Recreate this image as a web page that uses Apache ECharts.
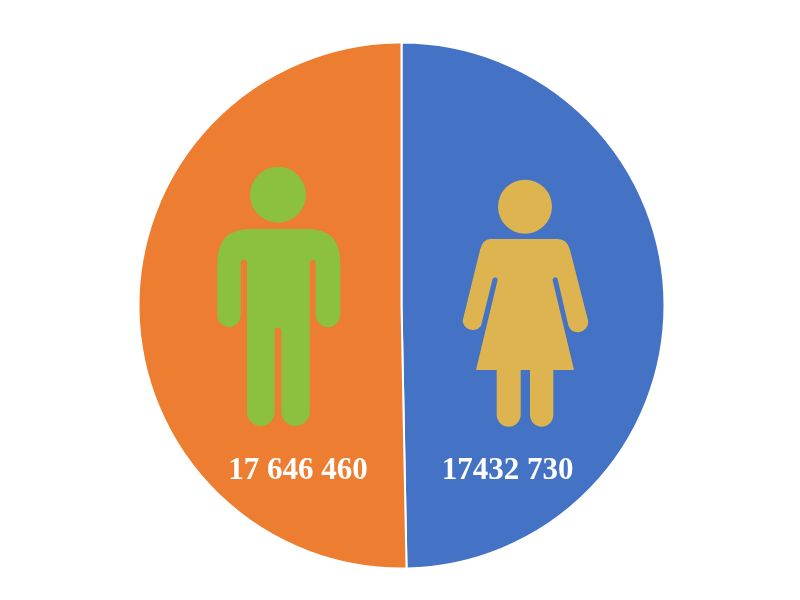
<!DOCTYPE html>
<html>
<head>
<meta charset="utf-8">
<style>
  html, body { margin: 0; padding: 0; background: #fff; }
  #chart { width: 800px; height: 600px; }
</style>
<script src="https://cdn.jsdelivr.net/npm/echarts@6/dist/echarts.min.js"></script>
</head>
<body>
<div id="chart"></div>
<script>
// population split
var categories = ['Women', 'Men'];
var values = [17432730, 17646460];
var valueLabels = ['17432 730', '17 646 460'];
var sliceColors = ['#4472C4', '#EC7D31'];

// icons are plain decoration, not data
var manBody = 'M217.3 263Q217.3 229 250 229L308 229Q340.3 229 340.3 263L340.3 314.7'
  + 'A12.3 12.3 0 0 1 315.7 314.7L315.7 263A3 3 0 0 0 309.7 263L309.7 411.8'
  + 'A14.2 14.2 0 0 1 281.3 411.8L281.3 331A3.3 3.3 0 0 0 274.7 331L274.7 412.1'
  + 'A13.85 13.85 0 0 1 247 412.1L247 263A3.15 3.15 0 0 0 240.7 263L240.7 315.3'
  + 'A11.7 11.7 0 0 1 217.3 315.3Z';
var womanBody = 'M490 239L558 239Q567 239 570 250L588.2 321A10.3 10.3 0 0 1 568.5 326'
  + 'L557.6 279A2.6 2.6 0 0 0 552.6 280L574 370L553.3 370L553.3 415'
  + 'A11.65 11.65 0 0 1 530 415L530 370L520.7 370L520.7 414.7A12 12 0 0 1 496.7 414.7'
  + 'L496.7 370L476 370L497.6 280A2.6 2.6 0 0 0 492.6 279L481 326'
  + 'A10.3 10.3 0 0 1 462.6 321L480 250Q483 239 490 239Z';

echarts.graphic.registerShape('manBody', echarts.graphic.extendPath(manBody, {}));
echarts.graphic.registerShape('womanBody', echarts.graphic.extendPath(womanBody, {}));

var chart = echarts.init(document.getElementById('chart'), null, { renderer: 'canvas' });

var labelFont = 'bold 31px "Liberation Serif", serif';

chart.setOption({
  backgroundColor: '#fff',
  animation: false,
  series: [{
    type: 'pie',
    center: [401.5, 305.5],
    radius: [0, 263],
    startAngle: 90,
    clockwise: true,
    silent: true,
    label: { show: false },
    labelLine: { show: false },
    itemStyle: { borderColor: '#fff', borderWidth: 2 },
    data: categories.map(function (name, i) {
      return { name: name, value: values[i], itemStyle: { color: sliceColors[i] } };
    })
  }],
  graphic: [
    { type: 'circle', z: 10, shape: { cx: 278, cy: 194.7, r: 28 }, style: { fill: '#8BC13F' } },
    { type: 'manBody', z: 10, style: { fill: '#8BC13F' } },
    { type: 'circle', z: 10, shape: { cx: 525, cy: 206.7, r: 27 }, style: { fill: '#DDB44F' } },
    { type: 'womanBody', z: 10, style: { fill: '#DDB44F' } },
    { type: 'text', z: 10, style: { text: valueLabels[0], x: 507.5, y: 471, fill: '#fff', font: labelFont, textAlign: 'center', textVerticalAlign: 'middle' } },
    { type: 'text', z: 10, style: { text: valueLabels[1], x: 298, y: 471, fill: '#fff', font: labelFont, textAlign: 'center', textVerticalAlign: 'middle' } }
  ]
});
</script>
</body>
</html>
